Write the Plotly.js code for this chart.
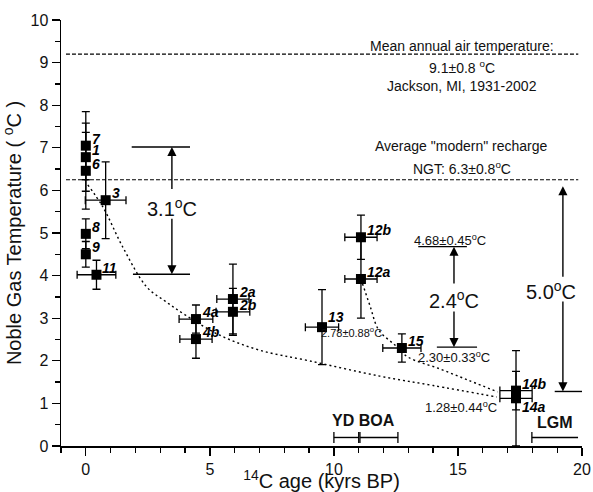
<!DOCTYPE html>
<html>
<head>
<meta charset="utf-8">
<script src="https://cdn.plot.ly/plotly-3.0.1.min.js"></script>
<style>html,body{margin:0;padding:0;background:#fff}#chart{width:593px;height:492px}</style>
</head>
<body>
<div id="chart"></div>
<script>
// ---- data ----
const ptLabels = ['7','1','6','8','9','11','3','4a','4b','2a','2b','13','12b','12a','15','14b','14a'];
const ptX      = [0, 0, 0, 0, 0, 0.43, 0.8, 4.44, 4.44, 5.93, 5.93, 9.52, 11.09, 11.09, 12.74, 17.34, 17.34];
const ptY      = [7.05, 6.78, 6.46, 4.98, 4.5, 4.02, 5.77, 2.98, 2.51, 3.45, 3.15, 2.79, 4.9, 3.92, 2.3, 1.3, 1.12];
const ptXErr   = [0, 0, 0, 0, 0, 0.78, 0.82, 0.68, 0.65, 0.65, 0.68, 0.67, 0.65, 0.65, 0.77, 0.65, 0.65];
const ptYErr   = [0.8, 0.8, 0.9, 0.35, 0.3, 0.34, 0.9, 0.33, 0.45, 0.82, 0.55, 0.88, 0.52, 0.92, 0.33, 0.45, 1.12];

const fit1X = [0.08, 0.69, 1.49, 2.46, 3.2, 4.0, 5.4, 7.0, 9.0, 11.85, 14.0, 16.57];
const fit1Y = [6.13, 5.61, 4.67, 3.73, 3.4, 3.08, 2.6, 2.25, 2.0, 1.64, 1.42, 1.15];
const fit2X = [11.09, 11.45, 11.81, 12.46, 12.98, 14.27, 15.48, 16.6];
const fit2Y = [3.92, 3.3, 2.72, 2.37, 2.09, 1.81, 1.53, 1.27];

const refLevels = [9.2, 6.25];              // mean annual air temp, modern NGT
const diff31 = [7.02, 4.03];                // 3.1 C bracket (top, bottom)
const diff24 = [4.68, 2.32];                // 2.4 C bracket
const diff50 = [6.25, 1.28];                // 5.0 C bracket
const periodNames = ['YD', 'BOA', 'LGM'];
const periodStart = [10.0, 11.05, 17.98];
const periodEnd   = [11.0, 12.58, 19.84];

const xTicks = [0, 5, 10, 15, 20];

// ---- styling ----
const FONT = 'Liberation Sans, Arial, sans-serif';
const BLK = '#000';

const traces = [
  {x: fit1X, y: fit1Y, mode: 'lines', line: {color: BLK, width: 1.4, dash: '2px,3px', shape: 'spline'}, hoverinfo: 'skip'},
  {x: fit2X, y: fit2Y, mode: 'lines', line: {color: BLK, width: 1.4, dash: '2px,3px', shape: 'spline'}, hoverinfo: 'skip'},
  {x: ptX, y: ptY, mode: 'markers', type: 'scatter',
   marker: {symbol: 'square', size: 10, color: BLK},
   error_y: {type: 'data', array: ptYErr, color: BLK, thickness: 1.3, width: 4},
   error_x: {type: 'data', array: ptXErr, color: BLK, thickness: 1.3, width: 4}}
];

const shapes = [];
refLevels.forEach(v => shapes.push({type: 'line', xref: 'x', yref: 'y', x0: -0.8, x1: 19.85, y0: v, y1: v,
  line: {color: BLK, width: 1.2, dash: '4px,2px'}}));
function hline(y, xa, xb) { shapes.push({type: 'line', xref: 'x', yref: 'y', x0: xa, x1: xb, y0: y, y1: y, line: {color: BLK, width: 1.4}}); }
hline(diff31[0], 1.85, 4.2); hline(diff31[1], 1.9, 4.2);
hline(diff24[0], 13.4, 15.36); hline(diff24[1], 14.15, 15.77);
hline(diff50[1], 18.9, 20);
// period bars
const barY = 0.2;
periodNames.forEach((n, i) => {
  hline(barY, periodStart[i], periodEnd[i]);
  const ends = (n === 'LGM') ? [periodStart[i]] : [periodStart[i], periodEnd[i]];
  ends.forEach(xv => shapes.push({type: 'line', xref: 'x', yref: 'y', x0: xv, x1: xv, y0: barY - 0.13, y1: barY + 0.13, line: {color: BLK, width: 1.3}}));
});

const annotations = [];
ptLabels.forEach((t, i) => annotations.push({
  x: ptX[i], y: ptY[i], xref: 'x', yref: 'y', text: '<b><i>' + t + '</i></b>', showarrow: false,
  xanchor: 'left', yanchor: 'middle', xshift: 4, yshift: (t === '14a') ? -9 : (t === '13' ? 10 : 7),
  font: {family: FONT, size: 14, color: BLK}
}));
function arrow(x, yTip, yTail) {
  annotations.push({x: x, y: yTip, ax: x, ay: yTail, xref: 'x', yref: 'y', axref: 'x', ayref: 'y', text: '',
    showarrow: true, arrowhead: 2, arrowsize: 1.3, arrowwidth: 1.4, arrowcolor: BLK});
}
arrow(3.47, diff31[0], 6.0); arrow(3.47, diff31[1], 5.37);
arrow(14.84, diff24[0], 3.78); arrow(14.84, diff24[1], 3.19);
arrow(19.23, 6.1, 3.94); arrow(19.23, diff50[1], 3.43);

function txt(x, y, text, size, extra) {
  annotations.push(Object.assign({x: x, y: y, xref: 'x', yref: 'y', text: text, showarrow: false,
    xanchor: 'center', yanchor: 'middle', font: {family: FONT, size: size, color: '#111'}}, extra || {}));
}
txt(15.16, 9.39, 'Mean annual air temperature:', 14);
txt(15.16, 8.9, '9.1±0.8 <sup>o</sup>C', 14);
txt(15.16, 8.45, 'Jackson, MI, 1931-2002', 14);
txt(15.16, 7.04, 'Average "modern" recharge', 14);
txt(15.16, 6.53, 'NGT: 6.3±0.8<sup>o</sup>C', 14);
txt(3.47, 5.59, '3.1<sup>o</sup>C', 20);
txt(14.84, 3.45, '2.4<sup>o</sup>C', 20);
txt(18.75, 3.66, '5.0<sup>o</sup>C', 20);
txt(14.68, 4.84, '4.68±0.45<sup>o</sup>C', 13);
txt(14.84, 2.09, '2.30±0.33<sup>o</sup>C', 13);
txt(15.12, 0.92, '1.28±0.44<sup>o</sup>C', 13);
txt(10.7, 2.68, '2.78±0.88<sup>o</sup>C', 11);
txt(11.2, 0.59, '<b>' + periodNames[0] + ' ' + periodNames[1] + '</b>', 16);
txt(18.9, 0.56, '<b>' + periodNames[2] + '</b>', 16);

const layout = {
  width: 593, height: 492,
  margin: {l: 61, r: 11, t: 20, b: 46, pad: 0},
  paper_bgcolor: '#fff', plot_bgcolor: '#fff',
  showlegend: false, hovermode: false,
  font: {family: FONT, color: '#111'},
  xaxis: {range: [-1, 20], tickvals: xTicks, ticktext: xTicks.map(String), ticks: 'outside', ticklen: 8, tickwidth: 1.3, tickcolor: BLK,
    minor: {dtick: 1, tick0: 0, ticks: 'outside', ticklen: 5, tickwidth: 1.3, tickcolor: BLK},
    showline: true, linecolor: BLK, linewidth: 1.5, showgrid: false, zeroline: false,
    tickfont: {size: 16, family: FONT, color: '#111'},
    title: {text: '<sup>14</sup>C age (kyrs BP)', font: {size: 20, family: FONT, color: '#111'}, standoff: 2}},
  yaxis: {range: [0, 10], dtick: 1, tick0: 0, ticks: 'outside', ticklen: 8, tickwidth: 1.3, tickcolor: BLK,
    minor: {dtick: 0.5, tick0: 0, ticks: 'outside', ticklen: 5, tickwidth: 1.3, tickcolor: BLK},
    showline: true, linecolor: BLK, linewidth: 1.5, showgrid: false, zeroline: false,
    tickfont: {size: 16, family: FONT, color: '#111'},
    title: {text: 'Noble Gas Temperature ( <sup>o</sup>C )', font: {size: 20, family: FONT, color: '#111'}, standoff: 6}},
  xaxis2: {overlaying: 'x', side: 'top', anchor: 'y', range: [-1, 20], dtick: 1, tick0: 0, ticks: 'inside', ticklen: 7, tickwidth: 1.3, tickcolor: BLK,
    showticklabels: false, showline: true, linecolor: BLK, linewidth: 1.5, showgrid: false, zeroline: false},
  yaxis2: {overlaying: 'y', side: 'right', anchor: 'x', range: [0, 10], dtick: 0.5, tick0: 0, ticks: 'inside', ticklen: 7, tickwidth: 1.3, tickcolor: BLK,
    showticklabels: false, showline: true, linecolor: BLK, linewidth: 1.5, showgrid: false, zeroline: false},
  shapes: shapes,
  annotations: annotations
};

Plotly.newPlot('chart', traces, layout, {staticPlot: true, displayModeBar: false});
</script>
</body>
</html>
